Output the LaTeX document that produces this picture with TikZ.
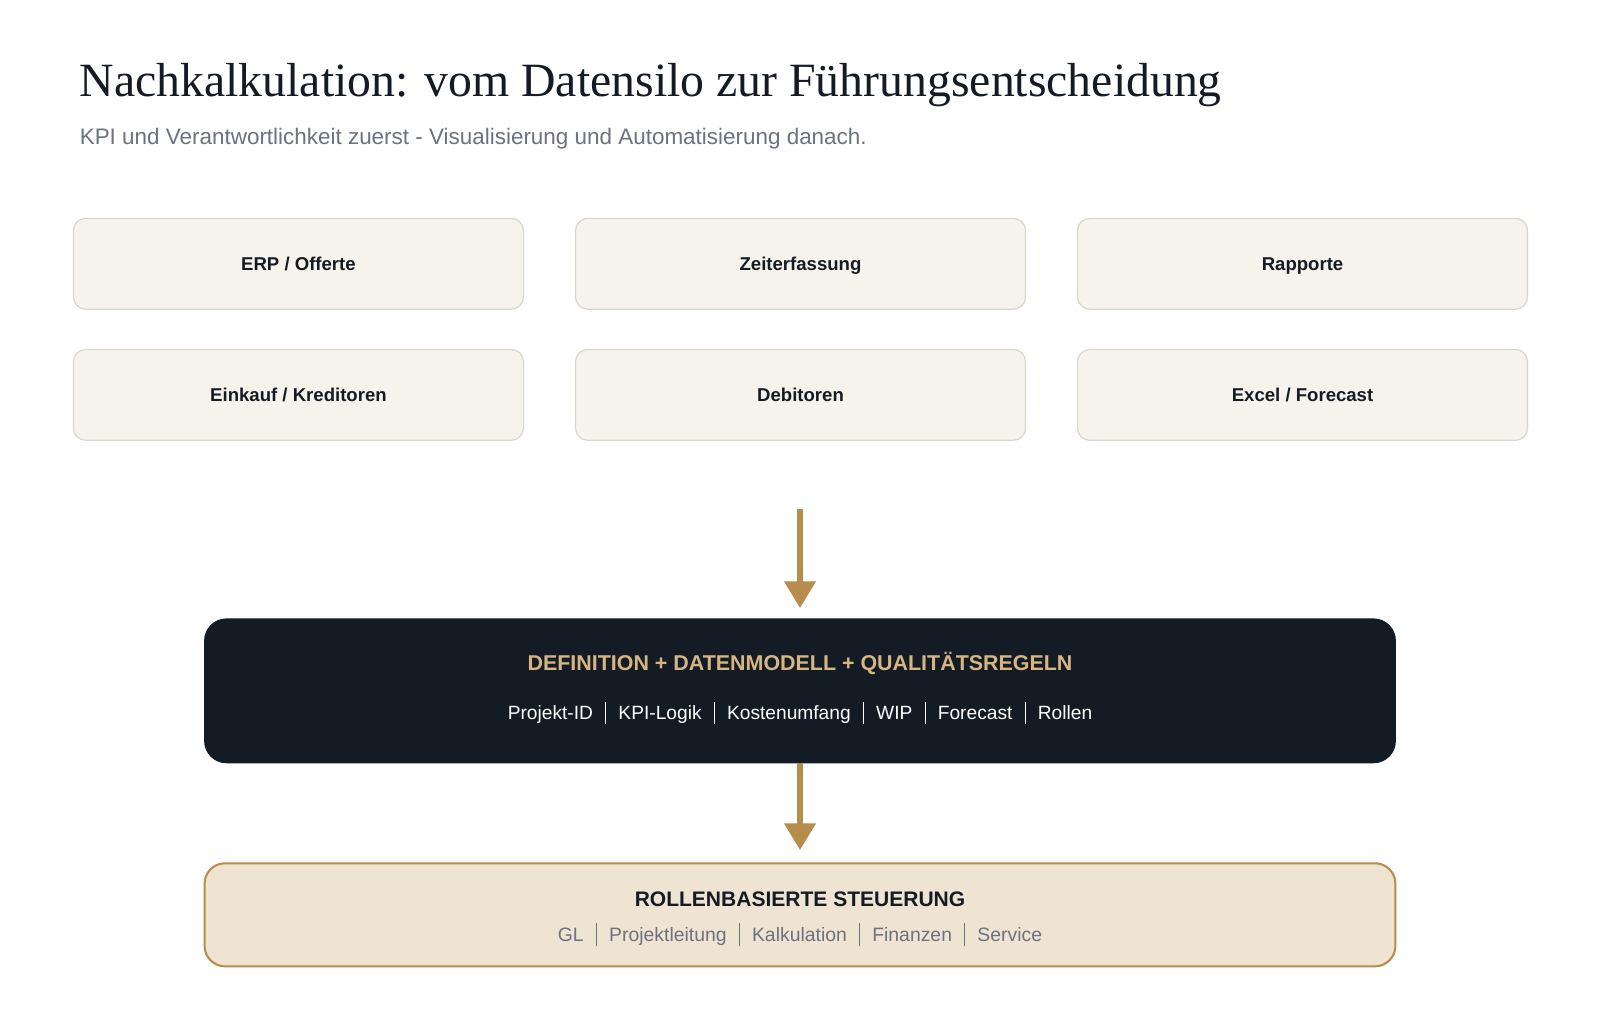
\documentclass[tikz,border=0pt]{standalone}
\usepackage{fontspec}
\setmainfont{Liberation Serif}
\setsansfont{Liberation Sans}
\usetikzlibrary{arrows.meta}
\definecolor{srcfill}{HTML}{F6F3EC}
\definecolor{srcdraw}{HTML}{DCD7CB}
\definecolor{ink}{HTML}{141B25}
\definecolor{gold}{HTML}{B68D4C}
\definecolor{goldtext}{HTML}{D6B583}
\definecolor{darkbox}{HTML}{131B24}
\definecolor{beige}{HTML}{EFE4D2}
\definecolor{grayt}{HTML}{6B7280}
\newcommand{\sepbar}[1]{\hspace{12pt}{\color{#1}\rule[-0.22em]{0.9pt}{1.15em}}\hspace{12pt}}
\tikzset{
  srcbox/.style={draw=srcdraw, line width=1.2pt, fill=srcfill, rounded corners=12pt,
    minimum width=441pt, minimum height=89pt, inner sep=0pt, text=ink,
    text height=13pt, text depth=0pt,
    font=\sffamily\bfseries\fontsize{18.2}{20}\selectfont},
  flowarrow/.style={draw=gold, line width=5pt, -{Triangle[width=30pt,length=26pt]}},
}
\begin{document}
\begin{tikzpicture}[x=1pt,y=-1pt]
\useasboundingbox (0,0) rectangle (1568,997.6);
\fill[white] (0,0) rectangle (1568,997.6);
\node[anchor=base west, inner sep=0pt, text=ink, font=\fontsize{46.8}{52}\selectfont] (title) at (78,95) {Nachkalkulation: vom Datensilo zur Führungsentscheidung};
\node[anchor=base west, inner sep=0pt, text=grayt, font=\sffamily\fontsize{22}{25}\selectfont] (subtitle) at (78,141.5) {KPI und Verantwortlichkeit zuerst - Visualisierung und Automatisierung danach.};

\node[srcbox] (erp) at (292.5,258.5) {ERP / Offerte};
\node[srcbox] (zeit) at (784.5,258.5) {Zeiterfassung};
\node[srcbox] (rap) at (1276.5,258.5) {Rapporte};
\node[srcbox] (ein) at (292.5,387) {Einkauf / Kreditoren};
\node[srcbox] (deb) at (784.5,387) {Debitoren};
\node[srcbox] (exc) at (1276.5,387) {Excel / Forecast};

\coordinate (start) at (784,499);

\node[fill=darkbox, rounded corners=22pt, minimum width=1168pt, minimum height=142pt, inner sep=0pt] (def) at (784,677) {};
\node[anchor=base, inner sep=0pt, text=goldtext, font=\sffamily\bfseries\fontsize{21}{24}\selectfont] (deft) at (784,657) {DEFINITION + DATENMODELL + QUALITÄTSREGELN};
\node[anchor=base, inner sep=0pt, text=white, font=\sffamily\fontsize{18.8}{22}\selectfont] (defs) at (784,705) {Projekt-ID\sepbar{white}KPI-Logik\sepbar{white}Kostenumfang\sepbar{white}WIP\sepbar{white}Forecast\sepbar{white}Rollen};

\node[draw=gold, line width=2pt, fill=beige, rounded corners=20pt, minimum width=1167pt, minimum height=101pt, inner sep=0pt] (rol) at (784,896.5) {};
\node[anchor=base, inner sep=0pt, text=ink, font=\sffamily\bfseries\fontsize{20.6}{24}\selectfont] (rolt) at (784,888.5) {ROLLENBASIERTE STEUERUNG};
\node[anchor=base, inner sep=0pt, text=grayt, font=\sffamily\fontsize{19}{22}\selectfont] (rols) at (784,922.5) {GL\sepbar{grayt}Projektleitung\sepbar{grayt}Kalkulation\sepbar{grayt}Finanzen\sepbar{grayt}Service};

\draw[flowarrow] (start) -- ([yshift=10pt]def.north);
\draw[flowarrow] (def.south) -- ([yshift=12pt]rol.north);
\end{tikzpicture}
\end{document}
